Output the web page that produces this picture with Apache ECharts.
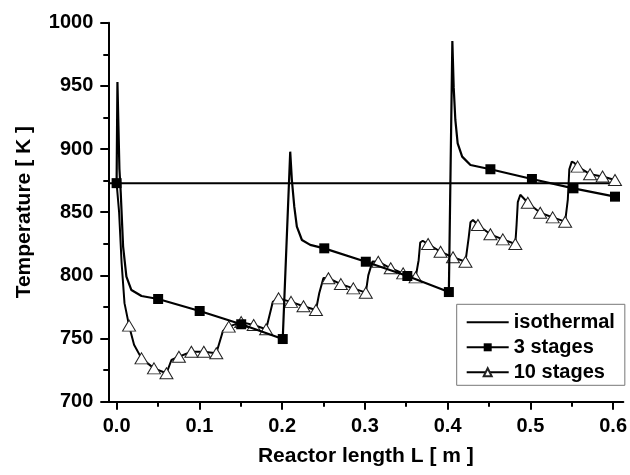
<!DOCTYPE html>
<html>
<head>
<meta charset="utf-8">
<script src="https://cdn.jsdelivr.net/npm/echarts@6/dist/echarts.min.js"></script>
<style>
    html, body {margin: 0; padding: 0; background: #fff;}
    #chart {width: 630px; height: 475px;}
</style>
</head>
<body>
<div id="chart"></div>
<script>
const font = '"Liberation Sans", Arial, sans-serif';

// isothermal reference line
const isoX = [-0.01, 0.6];
const isoT = [873, 873];

// 3 stages: marker points and extra points tracing the spikes
const st3MarkX = [0, 0.05, 0.1, 0.15, 0.2, 0.25, 0.3, 0.35, 0.4, 0.45, 0.5, 0.55, 0.6];
const st3MarkT = [873, 781.3, 771.8, 761.3, 749.6, 821.4, 810.8, 799.5, 786.8, 884, 876.3, 868.9, 862.3];
const st3CurveX = [0.001, 0.0022, 0.0034, 0.005, 0.0078, 0.0118, 0.0178, 0.03,
    0.209, 0.211, 0.2139, 0.217, 0.2231, 0.2331,
    0.4042, 0.4058, 0.4078, 0.4106, 0.416, 0.426];
const st3CurveT = [953, 918, 884, 865, 823, 799, 788.4, 783.7,
    897.9, 875.5, 854.4, 838.6, 828, 824.1,
    985.5, 949, 923, 904.5, 894, 887.4];

// 10 stages: triangle markers and the jumps between stages
const st10MarkX = [0.015, 0.03, 0.045, 0.06, 0.075, 0.09, 0.105, 0.12, 0.135, 0.15,
    0.165, 0.18, 0.195, 0.21, 0.225, 0.24, 0.255, 0.27, 0.285, 0.3,
    0.315, 0.33, 0.345, 0.36, 0.375, 0.39, 0.405, 0.42, 0.435, 0.45,
    0.465, 0.48, 0.495, 0.51, 0.525, 0.54, 0.555, 0.57, 0.585, 0.6];
const st10MarkT = [760.2, 734.3, 726.4, 722.5, 735.6, 739.6, 739.6, 738.3, 759.4, 763,
    760.7, 757.3, 781.8, 779, 775.6, 772.6, 797.7, 793.1, 789.7, 786.3,
    810.8, 805.6, 801.6, 798.4, 824.8, 818.7, 814.3, 810.8, 839.9, 832.5,
    828.5, 824.8, 857.5, 849.6, 845.9, 842.5, 886.1, 880.1, 878.2, 875.5];
const st10CurveX = [0, 0.003, 0.006, 0.0095, 0.021, 0.066, 0.128, 0.188, 0.244, 0.249,
    0.303, 0.308, 0.3636, 0.3655, 0.3685, 0.4239, 0.426, 0.429,
    0.4815, 0.483, 0.486, 0.49, 0.5432, 0.545, 0.548, 0.551];
const st10CurveT = [873, 850, 810, 778, 745, 733, 756, 779, 786, 798,
    800, 811, 812, 826, 827.4, 830, 842, 843.8,
    840, 858, 863.8, 861, 860, 884, 890, 889];

function buildLine(markX, markT, curveX, curveT) {
    const pts = markX.map((x, i) => ({value: [x, markT[i]]}));
    for (let i = 0; i < curveX.length; i++) {
        pts.push({value: [curveX[i], curveT[i]], symbol: 'none'});
    }
    pts.sort((a, b) => a.value[0] - b.value[0]);
    return pts;
}

const chart = echarts.init(document.getElementById('chart'), null, {renderer: 'canvas'});
const labelStyle = {color: '#000', fontFamily: font, fontWeight: 'bold', fontSize: 20};
const nameStyle = {color: '#000', fontFamily: font, fontWeight: 'bold', fontSize: 21};

chart.setOption({
    animation: false,
    backgroundColor: '#fff',
    grid: [
        {left: 108.3, right: 6.7, top: 22.7, bottom: 73.3},
        {left: 116.6, right: 15, top: 22.7, bottom: 73.3},
    ],
    xAxis: [{
        // data axis, only its line is shown
        type: 'value',
        gridIndex: 0,
        min: -0.01,
        max: 0.61,
        axisLine: {show: true, onZero: false, lineStyle: {color: '#000', width: 2}},
        axisTick: {show: false},
        axisLabel: {show: false},
        splitLine: {show: false},
        name: 'Reactor length L [ m ]',
        nameLocation: 'middle',
        nameGap: 44,
        nameTextStyle: nameStyle,
    }, {
        // tick axis 0..0.6
        type: 'value',
        gridIndex: 1,
        min: 0,
        max: 0.6,
        interval: 0.1,
        axisLine: {show: false},
        axisTick: {show: true, inside: false, length: 8, lineStyle: {color: '#000', width: 2}},
        minorTick: {show: true, splitNumber: 2, length: 5, lineStyle: {color: '#000', width: 2}},
        axisLabel: {...labelStyle, margin: 15, formatter: v => v.toFixed(1)},
        splitLine: {show: false},
    }],
    yAxis: [{
        type: 'value',
        gridIndex: 0,
        min: 700,
        max: 1000,
        interval: 50,
        axisLine: {show: true, onZero: false, lineStyle: {color: '#000', width: 2}},
        axisTick: {show: true, inside: false, length: 8, lineStyle: {color: '#000', width: 2}},
        minorTick: {show: true, splitNumber: 2, length: 5, lineStyle: {color: '#000', width: 2}},
        axisLabel: {...labelStyle, margin: 15, formatter: v => String(v)},
        splitLine: {show: false},
        name: 'Temperature [ K ]',
        nameLocation: 'middle',
        nameGap: 74,
        nameTextStyle: nameStyle,
    }, {
        type: 'value',
        gridIndex: 1,
        min: 700,
        max: 1000,
        show: false,
    }],
    legend: {
        data: [
            {name: 'isothermal', icon: 'path://M0,0 L42,0 L42,2 L0,2 Z'},
            '3 stages',
            '10 stages',
        ],
        orient: 'vertical',
        left: 456.7,
        top: 304.3,
        itemWidth: 42,
        itemHeight: 10,
        itemGap: 5,
        padding: [8, 10, 3, 9],
        borderColor: '#777',
        borderWidth: 1,
        backgroundColor: '#fff',
        textStyle: {color: '#000', fontFamily: font, fontWeight: 'bold', fontSize: 20},
    },
    series: [{
        name: 'isothermal',
        type: 'line',
        xAxisIndex: 0,
        yAxisIndex: 0,
        symbol: 'none',
        lineStyle: {color: '#000', width: 2},
        itemStyle: {color: '#000'},
        data: isoX.map((x, i) => [x, isoT[i]]),
        z: 2,
    }, {
        name: '10 stages',
        type: 'line',
        xAxisIndex: 0,
        yAxisIndex: 0,
        symbol: 'triangle',
        symbolSize: [13, 11],
        lineStyle: {color: '#000', width: 2},
        itemStyle: {color: '#fff', borderColor: '#222', borderWidth: 1},
        data: buildLine(st10MarkX, st10MarkT, st10CurveX, st10CurveT),
        z: 3,
    }, {
        name: '3 stages',
        type: 'line',
        xAxisIndex: 0,
        yAxisIndex: 0,
        symbol: 'rect',
        symbolSize: 10,
        lineStyle: {color: '#000', width: 2.2},
        itemStyle: {color: '#000'},
        data: buildLine(st3MarkX, st3MarkT, st3CurveX, st3CurveT),
        z: 4,
    }],
});
</script>
</body>
</html>
